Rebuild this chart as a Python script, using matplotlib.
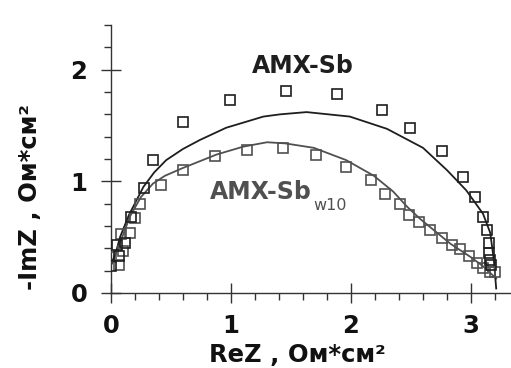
import matplotlib
matplotlib.use("Agg")
import matplotlib.pyplot as plt
from matplotlib.ticker import MultipleLocator

# AMX-Sb experimental points
sb_x = [0.00, 0.07, 0.05, 0.12, 0.17, 0.275, 0.35, 0.60, 0.99, 1.46, 1.88, 2.26, 2.49, 2.76,
        2.93, 3.03, 3.10, 3.13, 3.15, 3.15, 3.16, 3.17]
sb_y = [0.24, 0.33, 0.43, 0.45, 0.68, 0.94, 1.19, 1.53, 1.73, 1.81, 1.78, 1.64, 1.48, 1.27,
        1.04, 0.86, 0.68, 0.56, 0.45, 0.36, 0.30, 0.25]
# AMX-Sb fit line
sb_fit_x = [0.00, 0.04, 0.075, 0.15, 0.27, 0.36, 0.46, 0.60, 0.74, 0.96, 1.27, 1.41, 1.63,
            1.99, 2.30, 2.60, 2.80, 2.96, 3.10, 3.16, 3.19, 3.21]
sb_fit_y = [0.25, 0.36, 0.50, 0.70, 0.95, 1.08, 1.19, 1.29, 1.37, 1.48, 1.58, 1.60, 1.62,
            1.58, 1.47, 1.30, 1.10, 0.92, 0.71, 0.54, 0.30, 0.04]

# AMX-Sb w10 experimental points
w_x = [0.00, 0.07, 0.08, 0.10, 0.16, 0.20, 0.24, 0.42, 0.60, 0.87, 1.13, 1.43, 1.71, 1.96,
       2.17, 2.28, 2.41, 2.48, 2.57, 2.66, 2.76, 2.84, 2.91, 2.98, 3.05, 3.10, 3.16, 3.20]
w_y = [0.32, 0.25, 0.53, 0.38, 0.54, 0.67, 0.80, 0.97, 1.10, 1.23, 1.28, 1.30, 1.24, 1.13,
       1.01, 0.89, 0.80, 0.70, 0.64, 0.56, 0.49, 0.43, 0.39, 0.33, 0.27, 0.22, 0.19, 0.19]
# AMX-Sb w10 fit line
w_fit_x = [0.00, 0.05, 0.10, 0.16, 0.25, 0.35, 0.45, 0.60, 0.88, 1.10, 1.30, 1.45, 1.69,
           1.96, 2.19, 2.35, 2.47, 2.58, 2.83, 3.00, 3.10, 3.21]
w_fit_y = [0.25, 0.38, 0.52, 0.69, 0.86, 0.98, 1.05, 1.12, 1.24, 1.31, 1.35, 1.34, 1.30,
           1.19, 1.05, 0.91, 0.77, 0.66, 0.44, 0.32, 0.24, 0.13]

x_ticks = [0, 1, 2, 3]
y_ticks = [0, 1, 2]

plt.rcParams['font.family'] = ['DejaVu Sans']

fig = plt.figure(figsize=(5.11, 3.68), dpi=100)
ax = fig.add_axes([111/511, 75/368, 400/511, 268/368])

dark = '#1e1e1e'
grey = '#505050'

ax.plot(w_fit_x, w_fit_y, color=grey, lw=1.3, zorder=2)
ax.plot(sb_fit_x, sb_fit_y, color=dark, lw=1.3, zorder=2)
ax.plot(w_x, w_y, ls='none', marker='s', ms=7.5, mfc='none', mec=grey, mew=1.2, zorder=3)
ax.plot(sb_x, sb_y, ls='none', marker='s', ms=7.5, mfc='none', mec=dark, mew=1.2, zorder=3)

ax.set_xlim(0, 400/120)
ax.set_ylim(0, 2.4)
for s in ['top', 'right']:
    ax.spines[s].set_visible(False)
for s in ['left', 'bottom']:
    ax.spines[s].set_color('#333333')
    ax.spines[s].set_linewidth(1.0)

ax.set_xticks(x_ticks)
ax.set_yticks(y_ticks)
ax.xaxis.set_minor_locator(MultipleLocator(0.2))
ax.yaxis.set_minor_locator(MultipleLocator(0.2))
ax.tick_params(which='major', direction='inout', length=14, width=1.0, color='#333333',
               labelsize=17.5, pad=6)
ax.tick_params(which='minor', direction='out', length=5, width=1.0, color='#333333')
ax.tick_params(axis='x', which='major', pad=8)
ax.tick_params(axis='y', which='major', pad=10)
for lab in ax.get_xticklabels() + ax.get_yticklabels():
    lab.set_fontweight('bold')
    lab.set_color('#111111')
ax.patch.set_alpha(0)

fig.text(297/511, 1 - 355/368, 'ReZ , Ом*см²', ha='center', va='center',
         fontsize=17.5, fontweight='bold', color='#111111')
fig.text(30/511, 1 - 197/368, '-ImZ , Ом*см²', ha='center', va='center', rotation=90,
         fontsize=17.5, fontweight='bold', color='#111111')

ax.text(1.6, 1.97, 'AMX-Sb', ha='center', va='baseline', fontsize=17, fontweight='bold',
        color=dark)
t = ax.text(0.825, 0.84, 'AMX-Sb', ha='left', va='baseline', fontsize=17, fontweight='bold',
            color=grey)
ax.annotate('w10', xy=(1, 0), xycoords=t, xytext=(1, -4), textcoords='offset points',
            ha='left', va='baseline', fontsize=11.5, color=grey)

fig.savefig('out.png', dpi=100)
